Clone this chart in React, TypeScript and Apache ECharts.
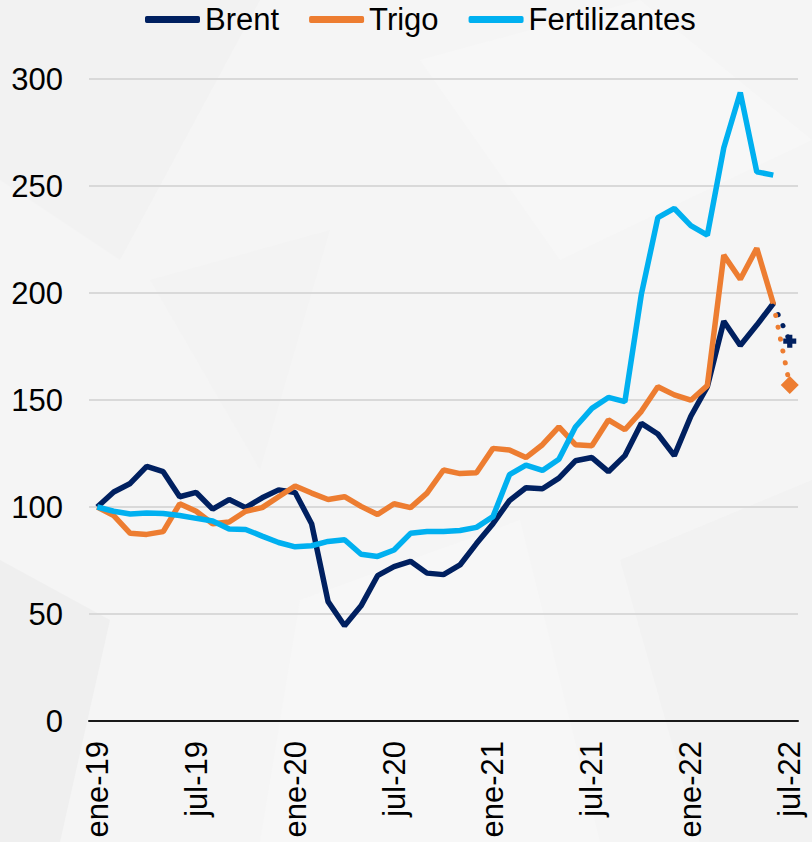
import React, { useEffect, useRef } from "react";
import * as echarts from "echarts";

const months = ["ene", "feb", "mar", "abr", "may", "jun", "jul", "ago", "sep", "oct", "nov", "dic"];
const categories: string[] = [];
for (let y = 19; y <= 22; y++) {
  for (let m = 0; m < 12; m++) {
    if (y === 22 && m > 6) break;
    categories.push(`${months[m]}-${y}`);
  }
}

const brent = [100, 107, 111, 119, 116.5, 104.8, 106.8, 99, 103.5, 99.7, 104.3, 108, 106.8, 92.2, 55.8, 44.5, 53.8, 67.9, 72.1, 74.6, 69.1, 68.4, 72.9, 82.9, 92.2, 103, 109, 108.5, 113.5, 121.6, 123.1, 116.5, 124, 139.1, 134.1, 124, 142.4, 156.2, 186.8, 175.5, 185, 195.1, null];
const trigo = [100, 96, 87.7, 87.2, 88.5, 101.5, 98, 92.2, 93, 98, 99.7, 104.8, 109.8, 106.5, 103.5, 104.8, 100.3, 96.5, 101.5, 99.7, 106.5, 117.3, 115.6, 116, 127.4, 126.6, 123.1, 129.1, 137.4, 129.1, 128.6, 140.7, 136.1, 144.7, 156.2, 152.4, 149.9, 156.7, 217.7, 206.4, 220.9, 195.1, null];
const fertilizantes = [100, 98, 96.7, 97.2, 97, 96, 94.7, 93.5, 89.7, 89.5, 86.4, 83.4, 81.4, 81.9, 83.9, 84.7, 77.9, 76.9, 79.9, 87.7, 88.5, 88.5, 89, 90.5, 95.5, 115.1, 119.6, 117.1, 122.3, 137.4, 146.1, 151.2, 149.2, 199.4, 235.2, 239.5, 231.5, 227, 267.9, 293.7, 256.6, 255.1, null];
const brentProyeccion = 177.5;
const trigoProyeccion = 157;

const yTicks = [0, 50, 100, 150, 200, 250, 300];

const BRENT = "#002060";
const TRIGO = "#ED7D31";
const FERT = "#00B0F0";
const FONT = "'Liberation Sans', Arial, sans-serif";

function projection(series: (number | null)[], proj: number, symbol: string, size: number) {
  const n = series.length;
  const lastIdx = n - 2;
  return series.map((v, i) => {
    if (i === lastIdx) return { value: v, symbol: "none" };
    if (i === n - 1) return { value: proj, symbol, symbolSize: size };
    return null;
  });
}

export default function App() {
  const ref = useRef<HTMLDivElement>(null);
  useEffect(() => {
    if (!ref.current) return;
    const chart = echarts.init(ref.current, undefined, { renderer: "svg" });
    const poly = (points: number[][], fill: string) => ({
      type: "polygon",
      silent: true,
      z: -10,
      shape: { points },
      style: { fill },
    });
    chart.setOption({
      animation: false,
      backgroundColor: "#f5f5f5",
      graphic: [
        poly([[0, 0], [260, 0], [120, 260], [0, 180]], "#f2f2f2"),
        poly([[0, 560], [110, 620], [60, 842], [0, 842]], "#efefef"),
        poly([[420, 60], [640, 0], [812, 140], [560, 260]], "#f7f7f7"),
        poly([[300, 600], [520, 520], [600, 842], [260, 842]], "#f7f7f7"),
        poly([[620, 560], [812, 480], [812, 842], [700, 842]], "#f2f2f2"),
        poly([[150, 280], [330, 230], [260, 470]], "#f3f3f3"),
      ],
      legend: {
        data: ["Brent", "Trigo", "Fertilizantes"],
        left: 145,
        top: 4,
        padding: 0,
        itemWidth: 55,
        itemHeight: 7,
        itemGap: 30,
        icon: "roundRect",
        textStyle: { fontFamily: FONT, fontSize: 31, color: "#000" },
      },
      grid: { left: 89, right: 14, top: 79, bottom: 121, containLabel: false },
      xAxis: {
        type: "category",
        data: categories,
        boundaryGap: true,
        axisLine: { lineStyle: { color: "#1a1a1a", width: 2 } },
        axisTick: { show: false },
        axisLabel: {
          interval: 5,
          rotate: 90,
          margin: 20,
          fontFamily: FONT,
          fontSize: 31,
          color: "#000",
        },
      },
      yAxis: {
        type: "value",
        min: yTicks[0],
        max: yTicks[yTicks.length - 1],
        interval: 50,
        axisLine: { show: false },
        axisTick: { show: false },
        splitLine: { lineStyle: { color: "#d9d9d9", width: 2 } },
        axisLabel: { margin: 26, fontFamily: FONT, fontSize: 31, color: "#000" },
      },
      series: [
        {
          name: "Brent proy",
          type: "line",
          data: projection(brent, brentProyeccion, "path://M3,0H7V3H10V7H7V10H3V7H0V3H3Z", 13),
          symbol: "none",
          showSymbol: true,
          connectNulls: false,
          itemStyle: { color: BRENT },
          lineStyle: { color: BRENT, width: 5, type: [0.1, 12], cap: "round" },
          z: 3,
        },
        {
          name: "Trigo proy",
          type: "line",
          data: projection(trigo, trigoProyeccion, "diamond", 18),
          symbol: "none",
          showSymbol: true,
          itemStyle: { color: TRIGO },
          lineStyle: { color: TRIGO, width: 5, type: [0.1, 12], cap: "round" },
          z: 3,
        },
        {
          name: "Brent",
          type: "line",
          data: brent,
          symbol: "none",
          itemStyle: { color: BRENT },
          lineStyle: { color: BRENT, width: 5.5 },
          z: 4,
        },
        {
          name: "Trigo",
          type: "line",
          data: trigo,
          symbol: "none",
          itemStyle: { color: TRIGO },
          lineStyle: { color: TRIGO, width: 5.5 },
          z: 5,
        },
        {
          name: "Fertilizantes",
          type: "line",
          data: fertilizantes,
          symbol: "none",
          itemStyle: { color: FERT },
          lineStyle: { color: FERT, width: 5.5 },
          z: 6,
        },
      ],
    });
    return () => chart.dispose();
  }, []);
  return (
    <div
      ref={ref}
      style={{ position: "fixed", left: 0, top: 0, width: 812, height: 842 }}
    />
  );
}
